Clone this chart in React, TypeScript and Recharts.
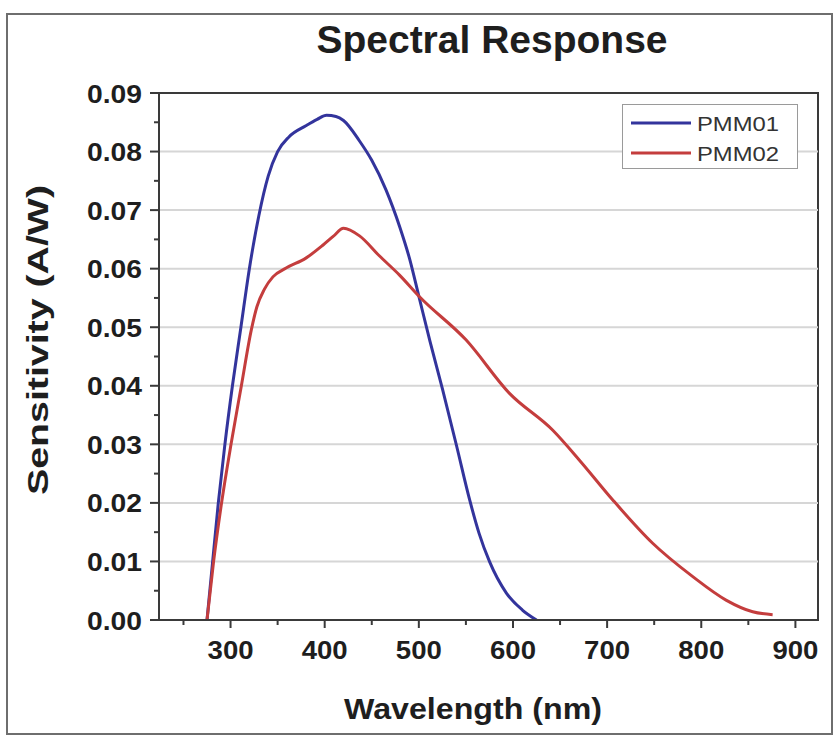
import React from 'react';
import { LineChart, Line, XAxis, YAxis, ReferenceLine, ReferenceArea, Legend } from 'recharts';

// ---- data ----
const pmm01Wavelength = [275, 287, 294, 302, 311, 320, 330, 340, 350, 362, 380, 392, 402, 412, 420, 437, 450, 465, 480, 490, 500, 512, 525, 540, 554, 564, 575, 593, 610, 625];
const pmm01Sensitivity = [0, 0.02, 0.03, 0.04, 0.05, 0.06, 0.069, 0.0758, 0.08, 0.0825, 0.0844, 0.0855, 0.0862, 0.086, 0.0853, 0.0818, 0.0785, 0.0735, 0.067, 0.0618, 0.0553, 0.0475, 0.0395, 0.0298, 0.0205, 0.0148, 0.01, 0.0046, 0.0017, 0];

const pmm02Wavelength = [275, 282, 290, 300.5, 311.5, 322, 328, 336, 345, 359, 380, 398, 409, 420, 437, 458, 479.5, 500.7, 550.3, 596.3, 642.3, 670.6, 706, 748.4, 791, 826.3, 854.6, 875.8];
const pmm02Sensitivity = [0, 0.01, 0.0195, 0.03, 0.04, 0.0495, 0.0535, 0.0565, 0.0586, 0.0601, 0.0618, 0.064, 0.0655, 0.0669, 0.0656, 0.0622, 0.0589, 0.0552, 0.0478, 0.0387, 0.0324, 0.0273, 0.0205, 0.0131, 0.0074, 0.0034, 0.0014, 0.0009];

const seriesNames = ['PMM01', 'PMM02'];
const seriesColors = ['#33349c', '#c43d3d'];

const X_MAJOR = [300, 400, 500, 600, 700, 800, 900];
const X_MINOR = [250, 350, 450, 550, 650, 750, 850];
const Y_MAJOR = [0, 0.01, 0.02, 0.03, 0.04, 0.05, 0.06, 0.07, 0.08, 0.09];
const Y_MINOR = [0.005, 0.015, 0.025, 0.035, 0.045, 0.055, 0.065, 0.075, 0.085];
const X_DOMAIN = [224, 924];
const Y_DOMAIN = [0, 0.09];

const TITLE = 'Spectral Response';
const X_TITLE = 'Wavelength (nm)';
const Y_TITLE = 'Sensitivity (A/W)';

// ---- styling ----
const FONT = '"Liberation Sans", Arial, Helvetica, sans-serif';
const W = 837;
const H = 738;
const AXIS = '#3a3a3a';
const TEXT = '#1e1e1e';
const GRID = '#d6d6d6';

const pmm01 = pmm01Wavelength.map((w, i) => ({ wl: w, s: pmm01Sensitivity[i] }));
const pmm02 = pmm02Wavelength.map((w, i) => ({ wl: w, s: pmm02Sensitivity[i] }));

const isIn = (arr: number[], v: number) => arr.some((m) => Math.abs(m - v) < 1e-9);

function XTick(props: any) {
  const { x, y, payload } = props;
  const major = isIn(X_MAJOR, payload.value);
  return (
    <g>
      <line x1={x} x2={x} y1={y} y2={y + (major ? 8 : 5)} stroke={AXIS} strokeWidth={2} />
      {major && (
        <text
          x={x}
          y={y + 39}
          textAnchor="middle"
          fontFamily={FONT}
          fontWeight="bold"
          fontSize={25}
          fill={TEXT}
          textLength={46}
          lengthAdjust="spacingAndGlyphs"
        >
          {payload.value}
        </text>
      )}
    </g>
  );
}

function YTick(props: any) {
  const { x, y, payload } = props;
  const major = isIn(Y_MAJOR, payload.value);
  return (
    <g>
      <line x1={x - (major ? 9 : 5)} x2={x} y1={y} y2={y} stroke={AXIS} strokeWidth={2} />
      {major && (
        <text
          x={x - 17}
          y={y + 9.5}
          textAnchor="end"
          fontFamily={FONT}
          fontWeight="bold"
          fontSize={26}
          fill={TEXT}
          textLength={55}
          lengthAdjust="spacingAndGlyphs"
        >
          {Number(payload.value).toFixed(2)}
        </text>
      )}
    </g>
  );
}

function LegendBox(props: any) {
  const payload = props.payload || [];
  return (
    <svg width={176} height={65} style={{ display: 'block' }}>
      <rect x={0.5} y={0.5} width={175} height={64} fill="#ffffff" stroke="#9a9a9a" strokeWidth={1} />
      {payload.map((p: any, i: number) => (
        <g key={i}>
          <line x1={9} x2={69} y1={19 + i * 30} y2={19 + i * 30} stroke={p.color} strokeWidth={3} />
          <text
            x={75}
            y={19 + i * 30 + 7.5}
            fontFamily={FONT}
            fontSize={20}
            fill="#333"
            textLength={82}
            lengthAdjust="spacingAndGlyphs"
          >
            {p.value}
          </text>
        </g>
      ))}
    </svg>
  );
}

export default function App() {
  return (
    <div style={{ position: 'absolute', left: 0, top: 0, width: W, height: H, background: '#fff', fontFamily: FONT }}>
      <div
        style={{
          position: 'absolute',
          left: 6,
          top: 13,
          width: 827,
          height: 722,
          boxSizing: 'border-box',
          border: '2px solid #6e6e6e',
        }}
      />
      <div style={{ position: 'absolute', left: 0, top: 0 }}>
        <LineChart width={W} height={H} margin={{ top: 93, right: 19, bottom: 58, left: 79 }}>
          <XAxis
            dataKey="wl"
            type="number"
            domain={X_DOMAIN}
            ticks={[...X_MAJOR, ...X_MINOR].sort((a, b) => a - b)}
            interval={0}
            allowDataOverflow
            height={60}
            tickSize={0}
            tickMargin={0}
            tickLine={false}
            axisLine={{ stroke: AXIS, strokeWidth: 2 }}
            tick={<XTick />}
          />
          <YAxis
            type="number"
            domain={Y_DOMAIN}
            ticks={[...Y_MAJOR, ...Y_MINOR].sort((a, b) => a - b)}
            interval={0}
            allowDataOverflow
            width={80}
            tickSize={0}
            tickMargin={0}
            tickLine={false}
            axisLine={{ stroke: AXIS, strokeWidth: 2 }}
            tick={<YTick />}
          />
          {Y_MAJOR.slice(1, -1).map((v) => (
            <ReferenceLine key={v} y={v} stroke={GRID} strokeWidth={2} />
          ))}
          <Line
            data={pmm01}
            dataKey="s"
            name={seriesNames[0]}
            type="monotone"
            stroke={seriesColors[0]}
            strokeWidth={3}
            dot={false}
            activeDot={false}
            isAnimationActive={false}
          />
          <Line
            data={pmm02}
            dataKey="s"
            name={seriesNames[1]}
            type="monotone"
            stroke={seriesColors[1]}
            strokeWidth={3}
            dot={false}
            activeDot={false}
            isAnimationActive={false}
          />
          <ReferenceArea
            x1={X_DOMAIN[0]}
            x2={X_DOMAIN[1]}
            y1={Y_DOMAIN[0]}
            y2={Y_DOMAIN[1]}
            fill="none"
            fillOpacity={0}
            stroke={AXIS}
            strokeWidth={2}
          />
          <Legend
            layout="horizontal"
            verticalAlign="middle"
            align="center"
            content={<LegendBox />}
            wrapperStyle={{ left: 622, top: 104, width: 176, height: 65 }}
          />
        </LineChart>
      </div>
      <svg width={W} height={H} style={{ position: 'absolute', left: 0, top: 0, pointerEvents: 'none' }}>
        <text x={492} y={53} textAnchor="middle" fontFamily={FONT} fontWeight="bold" fontSize={39} fill={TEXT}>
          {TITLE}
        </text>
        <text
          x={473}
          y={719}
          textAnchor="middle"
          fontFamily={FONT}
          fontWeight="bold"
          fontSize={30}
          fill={TEXT}
          textLength={258}
          lengthAdjust="spacingAndGlyphs"
        >
          {X_TITLE}
        </text>
        <text
          x={48}
          y={340}
          transform="rotate(-90 48 340)"
          textAnchor="middle"
          fontFamily={FONT}
          fontWeight="bold"
          fontSize={30}
          fill={TEXT}
          textLength={310}
          lengthAdjust="spacingAndGlyphs"
        >
          {Y_TITLE}
        </text>
      </svg>
    </div>
  );
}
